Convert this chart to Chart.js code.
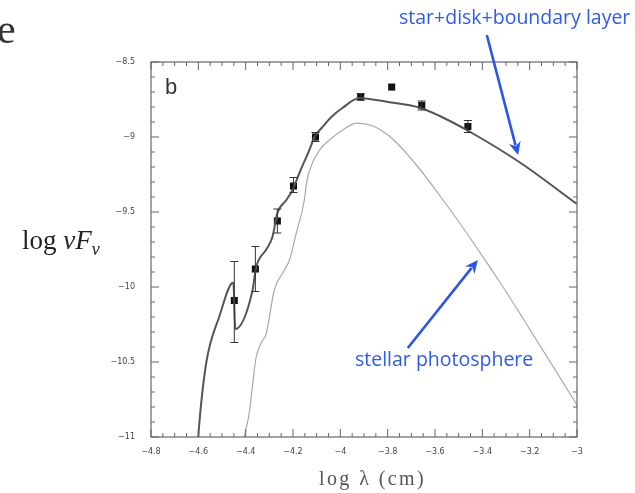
<!DOCTYPE html>
<html><head><meta charset="utf-8">
<script src="https://cdn.jsdelivr.net/npm/chart.js@4/dist/chart.umd.min.js"></script>
<style>
html,body{margin:0;padding:0;background:#fff;}
#wrap{position:relative;width:635px;height:493px;overflow:hidden;background:#fff;}
canvas{position:absolute;left:0;top:0;}
.t{position:absolute;white-space:nowrap;line-height:1;}
.blue{color:#2f5be6;font-family:'Open Sans','Lato',sans-serif;font-size:19.5px;}
</style></head><body>
<div id="wrap">
<canvas id="c" width="635" height="493"></canvas>
<div class="t" style="left:-3px;top:8px;font-family:'Liberation Serif',serif;font-size:42px;color:#333">e</div>
<div class="t" style="left:22px;top:227px;font-family:'Liberation Serif',serif;font-size:27px;color:#222">log <i>νF<sub style="font-size:18px;vertical-align:-6px">ν</sub></i></div>
<div class="t" style="left:319px;top:468px;font-family:'Liberation Serif',serif;font-size:20px;color:#555;letter-spacing:2.4px">log λ (cm)</div>
<div class="t" style="left:165px;top:76px;font-family:'Liberation Sans',sans-serif;font-size:22px;color:#333">b</div>
<div class="t blue" style="left:399px;top:7px">star+disk+boundary layer</div>
<div class="t blue" style="left:355px;top:349px">stellar photosphere</div>
</div>
<script>
// observed photometry (log lambda, log nuFnu) with error bar limits
const obsX = [-4.448, -4.359, -4.266, -4.198, -4.105, -3.914, -3.783, -3.656, -3.461];
const obsY = [-10.09, -9.88, -9.56, -9.327, -9.0, -8.733, -8.667, -8.79, -8.93];
const obsLo = [-10.37, -10.03, -9.64, -9.37, -9.03, -8.755, -8.667, -8.82, -8.97];
const obsHi = [-9.83, -9.73, -9.48, -9.27, -8.97, -8.71, -8.667, -8.76, -8.89];

// star + disk + boundary layer model
const totX = [-4.6, -4.597, -4.567, -4.512, -4.452, -4.444, -4.372, -4.356, -4.313, -4.287, -4.266, -4.228, -4.202, -4.173, -4.131, -4.109, -4.075, -4.038, -3.99, -3.919, -3.864, -3.792, -3.664, -3.58, -3.453, -3.241, -3.0];
const totY = [-11.0, -10.93, -10.51, -10.2, -9.97, -10.28, -10.03, -9.87, -9.75, -9.667, -9.507, -9.42, -9.353, -9.24, -9.087, -9.0, -8.933, -8.867, -8.805, -8.74, -8.75, -8.768, -8.805, -8.86, -8.965, -9.17, -9.447];

// stellar photosphere model
const phX = [-4.406, -4.385, -4.372, -4.356, -4.342, -4.33, -4.313, -4.279, -4.236, -4.215, -4.186, -4.152, -4.143, -4.118, -4.088, -4.046, -3.99, -3.931, -3.864, -3.834, -3.792, -3.749, -3.664, -3.58, -3.495, -3.41, -3.325, -3.228, -3.0];
const phY = [-11.0, -10.84, -10.67, -10.47, -10.4, -10.36, -10.31, -10.02, -9.887, -9.82, -9.64, -9.42, -9.307, -9.173, -9.087, -9.02, -8.953, -8.907, -8.925, -8.95, -8.995, -9.06, -9.215, -9.39, -9.575, -9.77, -9.97, -10.21, -10.787];

// axis ranges / ticks
const xMin = -4.8, xMax = -3.0, xStep = 0.2, xMinor = 0.05;
const yMin = -11, yMax = -8.5, yStep = 0.5, yMinor = 0.1;

// annotation arrows in data coordinates [tailX, tailY, tipX, tipY]
const arrowTotal = [-3.381, -8.32, -3.249, -9.12];
const arrowPhot = [-3.715, -10.407, -3.419, -9.82];

const pts = (xs, ys) => xs.map((x, i) => ({x: x, y: ys[i]}));
const fmt = v => { const r = Math.round(v * 10) / 10; return String(r).replace('-', '\u2212'); };

const decor = {
  id: 'decor',
  afterDatasetsDraw(chart) {
    const ctx = chart.ctx, a = chart.chartArea, xs = chart.scales.x, ys = chart.scales.y;
    ctx.save();
    ctx.strokeStyle = '#666'; ctx.lineWidth = 1.2;
    ctx.strokeRect(a.left, a.top, a.right - a.left, a.bottom - a.top);
    ctx.lineWidth = 1;
    ctx.beginPath();
    const nx = Math.round((xMax - xMin) / xMinor);
    for (let i = 0; i <= nx; i++) {
      const v = xMin + i * xMinor, p = xs.getPixelForValue(v);
      const L = (i % 4 === 0) ? 8 : 4;
      ctx.moveTo(p, a.bottom); ctx.lineTo(p, a.bottom - L);
      ctx.moveTo(p, a.top); ctx.lineTo(p, a.top + L);
    }
    const ny = Math.round((yMax - yMin) / yMinor);
    for (let i = 0; i <= ny; i++) {
      const v = yMin + i * yMinor, p = ys.getPixelForValue(v);
      const L = (i % 5 === 0) ? 8 : 4;
      ctx.moveTo(a.left, p); ctx.lineTo(a.left + L, p);
      ctx.moveTo(a.right, p); ctx.lineTo(a.right - L, p);
    }
    ctx.stroke();
    ctx.strokeStyle = '#333'; ctx.lineWidth = 1;
    ctx.beginPath();
    for (let i = 0; i < obsX.length; i++) {
      if (obsHi[i] === obsLo[i]) continue;
      const px = xs.getPixelForValue(obsX[i]);
      const pl = ys.getPixelForValue(obsLo[i]), ph = ys.getPixelForValue(obsHi[i]);
      ctx.moveTo(px, pl); ctx.lineTo(px, ph);
      ctx.moveTo(px - 4, pl); ctx.lineTo(px + 4, pl);
      ctx.moveTo(px - 4, ph); ctx.lineTo(px + 4, ph);
    }
    ctx.stroke();
    const arrow = (d) => {
      const x0 = xs.getPixelForValue(d[0]), y0 = ys.getPixelForValue(d[1]);
      const x1 = xs.getPixelForValue(d[2]), y1 = ys.getPixelForValue(d[3]);
      const ang = Math.atan2(y1 - y0, x1 - x0), hl = 13, hw = 6;
      const bx = x1 - hl * Math.cos(ang), by = y1 - hl * Math.sin(ang);
      ctx.strokeStyle = '#2a55e8'; ctx.fillStyle = '#2a55e8'; ctx.lineWidth = 2.6;
      ctx.beginPath(); ctx.moveTo(x0, y0); ctx.lineTo(bx + 3 * Math.cos(ang), by + 3 * Math.sin(ang)); ctx.stroke();
      ctx.beginPath();
      ctx.moveTo(x1, y1);
      ctx.lineTo(bx + hw * Math.sin(ang), by - hw * Math.cos(ang));
      ctx.lineTo(bx + 4 * Math.cos(ang), by + 4 * Math.sin(ang));
      ctx.lineTo(bx - hw * Math.sin(ang), by + hw * Math.cos(ang));
      ctx.closePath(); ctx.fill();
    };
    arrow(arrowTotal); arrow(arrowPhot);
    ctx.restore();
  }
};

new Chart(document.getElementById('c'), {
  type: 'scatter',
  data: {
    datasets: [
      { label: 'star+disk+boundary layer', data: pts(totX, totY), showLine: true, borderColor: '#555', borderWidth: 2, pointRadius: 0, cubicInterpolationMode: 'monotone' },
      { label: 'stellar photosphere', data: pts(phX, phY), showLine: true, borderColor: '#aaa', borderWidth: 1.2, pointRadius: 0, cubicInterpolationMode: 'monotone' },
      { label: 'observed', data: pts(obsX, obsY), showLine: false, pointStyle: 'rect', pointRadius: 5, backgroundColor: '#111', borderColor: '#111', borderWidth: 0 }
    ]
  },
  options: {
    responsive: false, animation: false, devicePixelRatio: 1,
    layout: { padding: { left: 111, right: 58, top: 62, bottom: 36 } },
    plugins: { legend: { display: false }, tooltip: { enabled: false } },
    scales: {
      x: {
        type: 'linear', min: xMin, max: xMax,
        grid: { display: false }, border: { display: false },
        ticks: { stepSize: xStep, callback: fmt, color: '#444', font: { family: 'DejaVu Sans', size: 8 }, padding: 2, maxRotation: 0 },
        afterFit(s) { s.height = 20; }
      },
      y: {
        type: 'linear', min: yMin, max: yMax,
        grid: { display: false }, border: { display: false },
        ticks: { stepSize: yStep, callback: fmt, color: '#444', font: { family: 'DejaVu Sans', size: 8 }, padding: 8 },
        afterFit(s) { s.width = 40; }
      }
    }
  },
  plugins: [decor]
});
</script>
</body></html>
